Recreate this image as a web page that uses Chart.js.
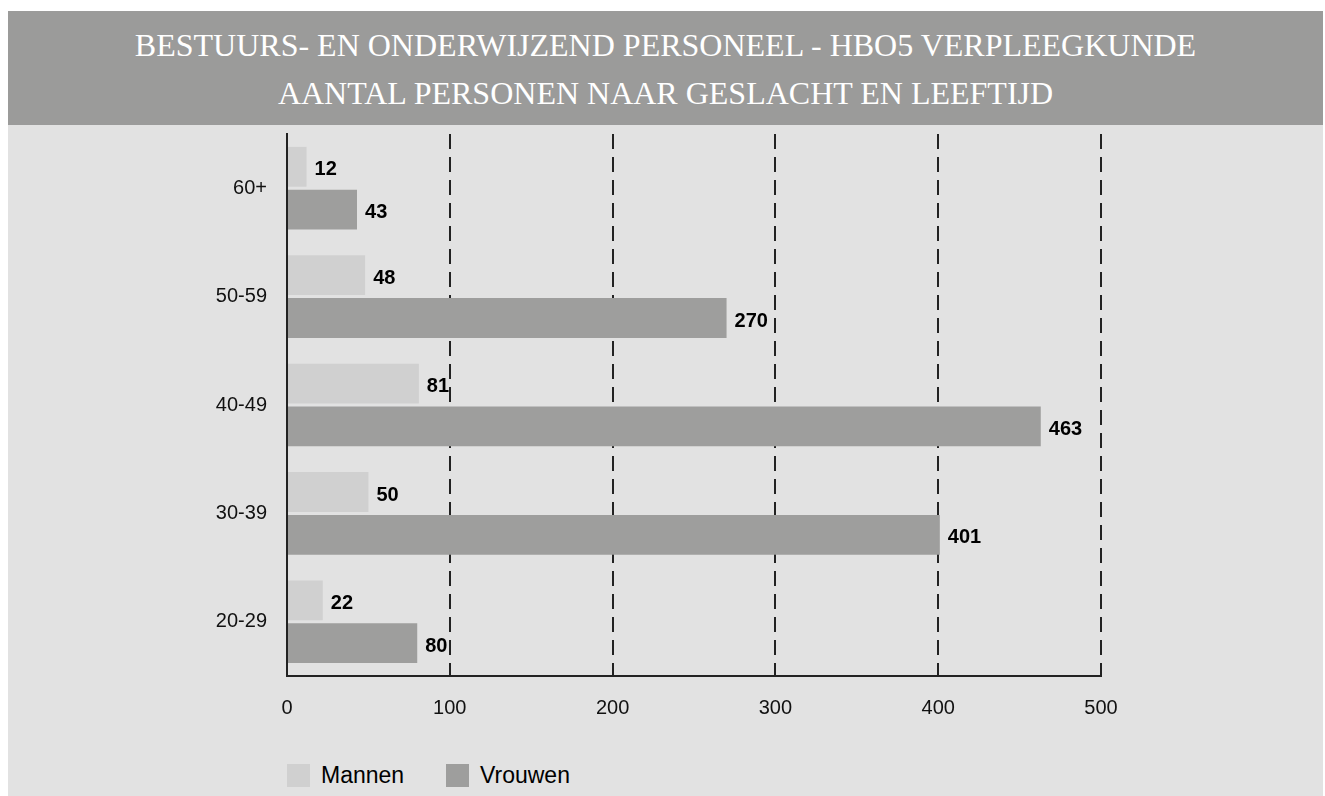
<!DOCTYPE html>
<html>
<head>
<meta charset="utf-8">
<script src="https://cdn.jsdelivr.net/npm/chart.js@4"></script>
<style>
  html, body { margin: 0; padding: 0; background: #ffffff; }
  #wrap { position: absolute; left: 8px; top: 11px; width: 1315px; height: 785px; background: #e2e2e2; overflow: hidden; }
  #banner { position: absolute; left: 0; top: 0; width: 1315px; height: 114px; background: #9b9b9a; color: #ffffff;
    font-family: "Liberation Serif", "Times New Roman", serif; font-size: 32px; text-align: center; }
  #banner div { line-height: 48px; white-space: nowrap; }
  #banner .l1 { position: absolute; left: 0; right: 0; top: 10px; }
  #banner .l2 { position: absolute; left: 0; right: 0; top: 58px; }
  #chartBox { position: absolute; left: 0; top: 91px; width: 1315px; height: 632px; }
  #legend { position: absolute; left: 279px; top: 753px; height: 23px; font-family: "Liberation Sans", Arial, sans-serif; font-size: 23px; color: #000; }
  .li { position: absolute; top: 0; white-space: nowrap; }
  .sw { position: absolute; left: 0; top: 0; width: 23px; height: 23px; }
  .lt { position: absolute; left: 34px; top: -3px; line-height: 28px; }
</style>
</head>
<body>
<div id="wrap">
  <div id="banner">
    <div class="l1">BESTUURS- EN ONDERWIJZEND PERSONEEL - HBO5 VERPLEEGKUNDE</div>
    <div class="l2">AANTAL PERSONEN NAAR GESLACHT EN LEEFTIJD</div>
  </div>
  <div id="chartBox"><canvas id="c" width="1315" height="632"></canvas></div>
  <div id="legend"></div>
</div>
<script>
const categories = ['60+', '50-59', '40-49', '30-39', '20-29'];
const seriesNames = ['Mannen', 'Vrouwen'];
const mannen = [12, 48, 81, 50, 22];
const vrouwen = [43, 270, 463, 401, 80];
const xTicks = [0, 100, 200, 300, 400, 500];
const colors = ['#d0d0d0', '#9e9e9d'];

const valueLabels = {
  id: 'valueLabels',
  afterDatasetsDraw(chart) {
    const ctx = chart.ctx;
    ctx.save();
    ctx.font = 'bold 20px "Liberation Sans", Arial, sans-serif';
    ctx.fillStyle = '#000';
    ctx.textAlign = 'left';
    ctx.textBaseline = 'middle';
    chart.data.datasets.forEach((ds, i) => {
      const meta = chart.getDatasetMeta(i);
      meta.data.forEach((el, j) => {
        ctx.fillText(String(ds.data[j]), el.x + 8, el.y + 3);
      });
    });
    ctx.restore();
  }
};

const chart = new Chart(document.getElementById('c'), {
  type: 'bar',
  data: {
    labels: categories,
    datasets: [
      { label: seriesNames[0], data: mannen, backgroundColor: colors[0], borderWidth: 0 },
      { label: seriesNames[1], data: vrouwen, backgroundColor: colors[1], borderWidth: 0 }
    ]
  },
  options: {
    indexAxis: 'y',
    responsive: false,
    animation: false,
    events: [],
    categoryPercentage: 0.79,
    barPercentage: 0.93,
    layout: { padding: { top: 20, right: 222, left: 0, bottom: 0 } },
    plugins: { legend: { display: false }, tooltip: { enabled: false }, title: { display: false } },
    scales: {
      x: {
        min: 0, max: 500,
        afterBuildTicks(scale) { scale.ticks = xTicks.map(v => ({ value: v })); },
        afterFit(scale) { scale.height = 58; },
        grid: {
          drawTicks: false,
          color: (c) => (c.tick && c.tick.value === 0) ? 'rgba(0,0,0,0)' : '#222',
          lineWidth: 2
        },
        border: { display: true, color: '#222', width: 2, dash: [15, 8] },
        ticks: { padding: 20, color: '#111', font: { family: '"Liberation Sans", Arial, sans-serif', size: 20 } }
      },
      y: {
        afterFit(scale) { scale.width = 279; },
        grid: { display: false, drawTicks: false },
        border: { display: true, color: '#222', width: 2 },
        ticks: { padding: 20, color: '#111', font: { family: '"Liberation Sans", Arial, sans-serif', size: 20 } }
      }
    }
  },
  plugins: [valueLabels]
});

const legend = document.getElementById('legend');
const legendX = [0, 159];
chart.data.datasets.forEach((ds, i) => {
  const item = document.createElement('div');
  item.className = 'li';
  item.style.left = legendX[i] + 'px';
  const sw = document.createElement('div');
  sw.className = 'sw';
  sw.style.background = ds.backgroundColor;
  const t = document.createElement('div');
  t.className = 'lt';
  t.textContent = ds.label;
  item.appendChild(sw); item.appendChild(t);
  legend.appendChild(item);
});
</script>
</body>
</html>
